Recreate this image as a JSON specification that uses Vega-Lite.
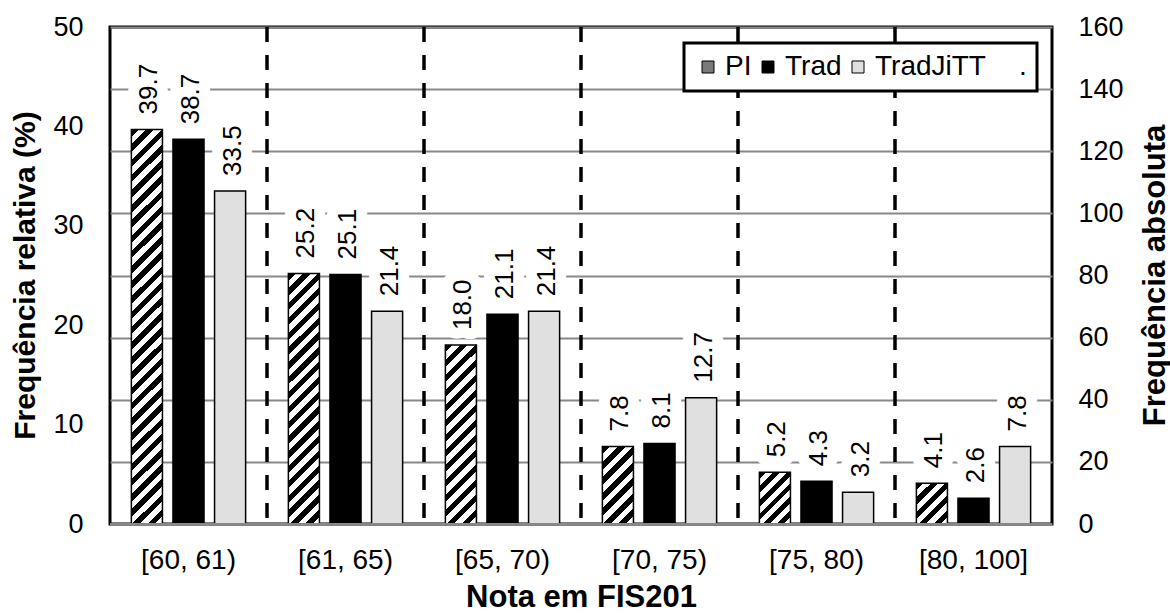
{
  "$schema": "https://vega.github.io/schema/vega-lite/v6.json",
  "width": 942,
  "height": 497,
  "autosize": {"type": "none"},
  "padding": {"left": 110, "top": 27, "right": 118, "bottom": 90},
  "background": "#ffffff",
  "config": {
    "font": "Liberation Sans",
    "view": {"stroke": "#000", "strokeWidth": 3},
    "axis": {
      "labelFont": "Liberation Sans",
      "titleFont": "Liberation Sans",
      "labelColor": "#000",
      "titleColor": "#000",
      "domain": false,
      "ticks": false,
      "labelFontSize": 27,
      "titleFontSize": 31,
      "titleFontWeight": "bold"
    },
    "legend": {"strokeWidth": 3, "labelFont": "Liberation Sans", "labelColor": "#000"}
  },
  "data": {
    "values": [
      {"faixa": "[60, 61)", "serie": "PI", "valor": 39.7},
      {"faixa": "[60, 61)", "serie": "Trad", "valor": 38.7},
      {"faixa": "[60, 61)", "serie": "TradJiTT", "valor": 33.5},
      {"faixa": "[61, 65)", "serie": "PI", "valor": 25.2},
      {"faixa": "[61, 65)", "serie": "Trad", "valor": 25.1},
      {"faixa": "[61, 65)", "serie": "TradJiTT", "valor": 21.4},
      {"faixa": "[65, 70)", "serie": "PI", "valor": 18.0},
      {"faixa": "[65, 70)", "serie": "Trad", "valor": 21.1},
      {"faixa": "[65, 70)", "serie": "TradJiTT", "valor": 21.4},
      {"faixa": "[70, 75)", "serie": "PI", "valor": 7.8},
      {"faixa": "[70, 75)", "serie": "Trad", "valor": 8.1},
      {"faixa": "[70, 75)", "serie": "TradJiTT", "valor": 12.7},
      {"faixa": "[75, 80)", "serie": "PI", "valor": 5.2},
      {"faixa": "[75, 80)", "serie": "Trad", "valor": 4.3},
      {"faixa": "[75, 80)", "serie": "TradJiTT", "valor": 3.2},
      {"faixa": "[80, 100]", "serie": "PI", "valor": 4.1},
      {"faixa": "[80, 100]", "serie": "Trad", "valor": 2.6},
      {"faixa": "[80, 100]", "serie": "TradJiTT", "valor": 7.8}
    ]
  },
  "layer": [
    {
      "layer": [
        {
          "mark": {"type": "bar", "stroke": "#000", "strokeWidth": 1.5},
          "encoding": {
            "x": {
              "field": "faixa", "type": "nominal",
              "scale": {"domain": ["[60, 61)", "[61, 65)", "[65, 70)", "[70, 75)", "[75, 80)", "[80, 100]"], "paddingInner": 0, "paddingOuter": 0},
              "axis": {"title": "Nota em FIS201", "labelAngle": 0, "labelFontSize": 28, "labelPadding": 22, "titleX": 471, "titleY": 73, "titleBaseline": "middle", "titleAlign": "center", "titleFontSize": 31}
            },
            "xOffset": {"field": "serie", "type": "nominal", "scale": {"domain": ["PI", "Trad", "TradJiTT"], "paddingInner": 0.253, "paddingOuter": 0.514}},
            "y": {
              "field": "valor", "type": "quantitative",
              "scale": {"domain": [0, 50], "nice": false},
              "axis": {"title": "Frequência relativa (%)", "values": [0, 10, 20, 30, 40, 50], "grid": false, "labelPadding": 27, "titleFontSize": 30, "titleX": -85, "titleY": 248, "titleBaseline": "middle", "titleAlign": "center"}
            },
            "fill": {
              "field": "serie", "type": "nominal",
              "scale": {
                "domain": ["PI", "Trad", "TradJiTT", "."],
                "range": ["#7a7a7a", "#000", "#e0e0e0", "transparent"]
              },
              "legend": {
                "title": null, "orient": "none", "legendX": 574, "legendY": 16,
                "direction": "horizontal", "columns": 4, "gridAlign": "none",
                "symbolType": "square", "symbolSize": 144, "symbolStrokeColor": "#000", "symbolStrokeWidth": 1, "symbolOpacity": 1,
                "labelFontSize": 28, "labelOffset": 3, "columnPadding": 2, "padding": 10,
                "fillColor": "#fff", "strokeColor": "#000",
                "encode": {"symbols": {"update": {
                  "stroke": [{"test": "datum.value === '.'", "value": "transparent"}, {"value": "#000"}],
                  "fill": [
                    {"test": "datum.value === 'PI'", "value": {"gradient": "linear", "x1": 0, "y1": 0, "x2": 1, "y2": 1, "stops": [
                      {"offset": 0, "color": "#000"}, {"offset": 0.25, "color": "#000"}, {"offset": 0.25, "color": "#fff"}, {"offset": 0.5, "color": "#fff"},
                      {"offset": 0.5, "color": "#000"}, {"offset": 0.75, "color": "#000"}, {"offset": 0.75, "color": "#fff"}, {"offset": 1, "color": "#fff"}
                    ]}},
                    {"scale": "fill", "field": "value"}
                  ]
                }}}
              },
              "condition": [
                {"test": "datum.serie === 'PI' && datum.faixa === '[60, 61)'", "value": {"gradient": "linear", "x1": 0, "y1": 0, "x2": 0.0842, "y2": 1.0719, "stops": [
                  {"offset": 0, "color": "#000"}, {"offset": 0.0179, "color": "#000"}, {"offset": 0.0179, "color": "#fff"}, {"offset": 0.0357, "color": "#fff"},
                  {"offset": 0.0357, "color": "#000"}, {"offset": 0.0536, "color": "#000"}, {"offset": 0.0536, "color": "#fff"}, {"offset": 0.0714, "color": "#fff"},
                  {"offset": 0.0714, "color": "#000"}, {"offset": 0.0893, "color": "#000"}, {"offset": 0.0893, "color": "#fff"}, {"offset": 0.1071, "color": "#fff"},
                  {"offset": 0.1071, "color": "#000"}, {"offset": 0.125, "color": "#000"}, {"offset": 0.125, "color": "#fff"}, {"offset": 0.1429, "color": "#fff"},
                  {"offset": 0.1429, "color": "#000"}, {"offset": 0.1607, "color": "#000"}, {"offset": 0.1607, "color": "#fff"}, {"offset": 0.1786, "color": "#fff"},
                  {"offset": 0.1786, "color": "#000"}, {"offset": 0.1964, "color": "#000"}, {"offset": 0.1964, "color": "#fff"}, {"offset": 0.2143, "color": "#fff"},
                  {"offset": 0.2143, "color": "#000"}, {"offset": 0.2321, "color": "#000"}, {"offset": 0.2321, "color": "#fff"}, {"offset": 0.25, "color": "#fff"},
                  {"offset": 0.25, "color": "#000"}, {"offset": 0.2679, "color": "#000"}, {"offset": 0.2679, "color": "#fff"}, {"offset": 0.2857, "color": "#fff"},
                  {"offset": 0.2857, "color": "#000"}, {"offset": 0.3036, "color": "#000"}, {"offset": 0.3036, "color": "#fff"}, {"offset": 0.3214, "color": "#fff"},
                  {"offset": 0.3214, "color": "#000"}, {"offset": 0.3393, "color": "#000"}, {"offset": 0.3393, "color": "#fff"}, {"offset": 0.3571, "color": "#fff"},
                  {"offset": 0.3571, "color": "#000"}, {"offset": 0.375, "color": "#000"}, {"offset": 0.375, "color": "#fff"}, {"offset": 0.3929, "color": "#fff"},
                  {"offset": 0.3929, "color": "#000"}, {"offset": 0.4107, "color": "#000"}, {"offset": 0.4107, "color": "#fff"}, {"offset": 0.4286, "color": "#fff"},
                  {"offset": 0.4286, "color": "#000"}, {"offset": 0.4464, "color": "#000"}, {"offset": 0.4464, "color": "#fff"}, {"offset": 0.4643, "color": "#fff"},
                  {"offset": 0.4643, "color": "#000"}, {"offset": 0.4821, "color": "#000"}, {"offset": 0.4821, "color": "#fff"}, {"offset": 0.5, "color": "#fff"},
                  {"offset": 0.5, "color": "#000"}, {"offset": 0.5179, "color": "#000"}, {"offset": 0.5179, "color": "#fff"}, {"offset": 0.5357, "color": "#fff"},
                  {"offset": 0.5357, "color": "#000"}, {"offset": 0.5536, "color": "#000"}, {"offset": 0.5536, "color": "#fff"}, {"offset": 0.5714, "color": "#fff"},
                  {"offset": 0.5714, "color": "#000"}, {"offset": 0.5893, "color": "#000"}, {"offset": 0.5893, "color": "#fff"}, {"offset": 0.6071, "color": "#fff"},
                  {"offset": 0.6071, "color": "#000"}, {"offset": 0.625, "color": "#000"}, {"offset": 0.625, "color": "#fff"}, {"offset": 0.6429, "color": "#fff"},
                  {"offset": 0.6429, "color": "#000"}, {"offset": 0.6607, "color": "#000"}, {"offset": 0.6607, "color": "#fff"}, {"offset": 0.6786, "color": "#fff"},
                  {"offset": 0.6786, "color": "#000"}, {"offset": 0.6964, "color": "#000"}, {"offset": 0.6964, "color": "#fff"}, {"offset": 0.7143, "color": "#fff"},
                  {"offset": 0.7143, "color": "#000"}, {"offset": 0.7321, "color": "#000"}, {"offset": 0.7321, "color": "#fff"}, {"offset": 0.75, "color": "#fff"},
                  {"offset": 0.75, "color": "#000"}, {"offset": 0.7679, "color": "#000"}, {"offset": 0.7679, "color": "#fff"}, {"offset": 0.7857, "color": "#fff"},
                  {"offset": 0.7857, "color": "#000"}, {"offset": 0.8036, "color": "#000"}, {"offset": 0.8036, "color": "#fff"}, {"offset": 0.8214, "color": "#fff"},
                  {"offset": 0.8214, "color": "#000"}, {"offset": 0.8393, "color": "#000"}, {"offset": 0.8393, "color": "#fff"}, {"offset": 0.8571, "color": "#fff"},
                  {"offset": 0.8571, "color": "#000"}, {"offset": 0.875, "color": "#000"}, {"offset": 0.875, "color": "#fff"}, {"offset": 0.8929, "color": "#fff"},
                  {"offset": 0.8929, "color": "#000"}, {"offset": 0.9107, "color": "#000"}, {"offset": 0.9107, "color": "#fff"}, {"offset": 0.9286, "color": "#fff"},
                  {"offset": 0.9286, "color": "#000"}, {"offset": 0.9464, "color": "#000"}, {"offset": 0.9464, "color": "#fff"}, {"offset": 0.9643, "color": "#fff"},
                  {"offset": 0.9643, "color": "#000"}, {"offset": 0.9821, "color": "#000"}, {"offset": 0.9821, "color": "#fff"}, {"offset": 1, "color": "#fff"}
                ]}},
                {"test": "datum.serie === 'PI' && datum.faixa === '[61, 65)'", "value": {"gradient": "linear", "x1": 0, "y1": 0, "x2": 0.137, "y2": 1.1068, "stops": [
                  {"offset": 0, "color": "#000"}, {"offset": 0.0263, "color": "#000"}, {"offset": 0.0263, "color": "#fff"}, {"offset": 0.0526, "color": "#fff"},
                  {"offset": 0.0526, "color": "#000"}, {"offset": 0.0789, "color": "#000"}, {"offset": 0.0789, "color": "#fff"}, {"offset": 0.1053, "color": "#fff"},
                  {"offset": 0.1053, "color": "#000"}, {"offset": 0.1316, "color": "#000"}, {"offset": 0.1316, "color": "#fff"}, {"offset": 0.1579, "color": "#fff"},
                  {"offset": 0.1579, "color": "#000"}, {"offset": 0.1842, "color": "#000"}, {"offset": 0.1842, "color": "#fff"}, {"offset": 0.2105, "color": "#fff"},
                  {"offset": 0.2105, "color": "#000"}, {"offset": 0.2368, "color": "#000"}, {"offset": 0.2368, "color": "#fff"}, {"offset": 0.2632, "color": "#fff"},
                  {"offset": 0.2632, "color": "#000"}, {"offset": 0.2895, "color": "#000"}, {"offset": 0.2895, "color": "#fff"}, {"offset": 0.3158, "color": "#fff"},
                  {"offset": 0.3158, "color": "#000"}, {"offset": 0.3421, "color": "#000"}, {"offset": 0.3421, "color": "#fff"}, {"offset": 0.3684, "color": "#fff"},
                  {"offset": 0.3684, "color": "#000"}, {"offset": 0.3947, "color": "#000"}, {"offset": 0.3947, "color": "#fff"}, {"offset": 0.4211, "color": "#fff"},
                  {"offset": 0.4211, "color": "#000"}, {"offset": 0.4474, "color": "#000"}, {"offset": 0.4474, "color": "#fff"}, {"offset": 0.4737, "color": "#fff"},
                  {"offset": 0.4737, "color": "#000"}, {"offset": 0.5, "color": "#000"}, {"offset": 0.5, "color": "#fff"}, {"offset": 0.5263, "color": "#fff"},
                  {"offset": 0.5263, "color": "#000"}, {"offset": 0.5526, "color": "#000"}, {"offset": 0.5526, "color": "#fff"}, {"offset": 0.5789, "color": "#fff"},
                  {"offset": 0.5789, "color": "#000"}, {"offset": 0.6053, "color": "#000"}, {"offset": 0.6053, "color": "#fff"}, {"offset": 0.6316, "color": "#fff"},
                  {"offset": 0.6316, "color": "#000"}, {"offset": 0.6579, "color": "#000"}, {"offset": 0.6579, "color": "#fff"}, {"offset": 0.6842, "color": "#fff"},
                  {"offset": 0.6842, "color": "#000"}, {"offset": 0.7105, "color": "#000"}, {"offset": 0.7105, "color": "#fff"}, {"offset": 0.7368, "color": "#fff"},
                  {"offset": 0.7368, "color": "#000"}, {"offset": 0.7632, "color": "#000"}, {"offset": 0.7632, "color": "#fff"}, {"offset": 0.7895, "color": "#fff"},
                  {"offset": 0.7895, "color": "#000"}, {"offset": 0.8158, "color": "#000"}, {"offset": 0.8158, "color": "#fff"}, {"offset": 0.8421, "color": "#fff"},
                  {"offset": 0.8421, "color": "#000"}, {"offset": 0.8684, "color": "#000"}, {"offset": 0.8684, "color": "#fff"}, {"offset": 0.8947, "color": "#fff"},
                  {"offset": 0.8947, "color": "#000"}, {"offset": 0.9211, "color": "#000"}, {"offset": 0.9211, "color": "#fff"}, {"offset": 0.9474, "color": "#fff"},
                  {"offset": 0.9474, "color": "#000"}, {"offset": 0.9737, "color": "#000"}, {"offset": 0.9737, "color": "#fff"}, {"offset": 1, "color": "#fff"}
                ]}},
                {"test": "datum.serie === 'PI' && datum.faixa === '[65, 70)'", "value": {"gradient": "linear", "x1": 0, "y1": 0, "x2": 0.1974, "y2": 1.1391, "stops": [
                  {"offset": 0, "color": "#000"}, {"offset": 0.0357, "color": "#000"}, {"offset": 0.0357, "color": "#fff"}, {"offset": 0.0714, "color": "#fff"},
                  {"offset": 0.0714, "color": "#000"}, {"offset": 0.1071, "color": "#000"}, {"offset": 0.1071, "color": "#fff"}, {"offset": 0.1429, "color": "#fff"},
                  {"offset": 0.1429, "color": "#000"}, {"offset": 0.1786, "color": "#000"}, {"offset": 0.1786, "color": "#fff"}, {"offset": 0.2143, "color": "#fff"},
                  {"offset": 0.2143, "color": "#000"}, {"offset": 0.25, "color": "#000"}, {"offset": 0.25, "color": "#fff"}, {"offset": 0.2857, "color": "#fff"},
                  {"offset": 0.2857, "color": "#000"}, {"offset": 0.3214, "color": "#000"}, {"offset": 0.3214, "color": "#fff"}, {"offset": 0.3571, "color": "#fff"},
                  {"offset": 0.3571, "color": "#000"}, {"offset": 0.3929, "color": "#000"}, {"offset": 0.3929, "color": "#fff"}, {"offset": 0.4286, "color": "#fff"},
                  {"offset": 0.4286, "color": "#000"}, {"offset": 0.4643, "color": "#000"}, {"offset": 0.4643, "color": "#fff"}, {"offset": 0.5, "color": "#fff"},
                  {"offset": 0.5, "color": "#000"}, {"offset": 0.5357, "color": "#000"}, {"offset": 0.5357, "color": "#fff"}, {"offset": 0.5714, "color": "#fff"},
                  {"offset": 0.5714, "color": "#000"}, {"offset": 0.6071, "color": "#000"}, {"offset": 0.6071, "color": "#fff"}, {"offset": 0.6429, "color": "#fff"},
                  {"offset": 0.6429, "color": "#000"}, {"offset": 0.6786, "color": "#000"}, {"offset": 0.6786, "color": "#fff"}, {"offset": 0.7143, "color": "#fff"},
                  {"offset": 0.7143, "color": "#000"}, {"offset": 0.75, "color": "#000"}, {"offset": 0.75, "color": "#fff"}, {"offset": 0.7857, "color": "#fff"},
                  {"offset": 0.7857, "color": "#000"}, {"offset": 0.8214, "color": "#000"}, {"offset": 0.8214, "color": "#fff"}, {"offset": 0.8571, "color": "#fff"},
                  {"offset": 0.8571, "color": "#000"}, {"offset": 0.8929, "color": "#000"}, {"offset": 0.8929, "color": "#fff"}, {"offset": 0.9286, "color": "#fff"},
                  {"offset": 0.9286, "color": "#000"}, {"offset": 0.9643, "color": "#000"}, {"offset": 0.9643, "color": "#fff"}, {"offset": 1, "color": "#fff"}
                ]}},
                {"test": "datum.serie === 'PI' && datum.faixa === '[70, 75)'", "value": {"gradient": "linear", "x1": 0, "y1": 0, "x2": 0.4828, "y2": 1.2069, "stops": [
                  {"offset": 0, "color": "#000"}, {"offset": 0.0714, "color": "#000"}, {"offset": 0.0714, "color": "#fff"}, {"offset": 0.1429, "color": "#fff"},
                  {"offset": 0.1429, "color": "#000"}, {"offset": 0.2143, "color": "#000"}, {"offset": 0.2143, "color": "#fff"}, {"offset": 0.2857, "color": "#fff"},
                  {"offset": 0.2857, "color": "#000"}, {"offset": 0.3571, "color": "#000"}, {"offset": 0.3571, "color": "#fff"}, {"offset": 0.4286, "color": "#fff"},
                  {"offset": 0.4286, "color": "#000"}, {"offset": 0.5, "color": "#000"}, {"offset": 0.5, "color": "#fff"}, {"offset": 0.5714, "color": "#fff"},
                  {"offset": 0.5714, "color": "#000"}, {"offset": 0.6429, "color": "#000"}, {"offset": 0.6429, "color": "#fff"}, {"offset": 0.7143, "color": "#fff"},
                  {"offset": 0.7143, "color": "#000"}, {"offset": 0.7857, "color": "#000"}, {"offset": 0.7857, "color": "#fff"}, {"offset": 0.8571, "color": "#fff"},
                  {"offset": 0.8571, "color": "#000"}, {"offset": 0.9286, "color": "#000"}, {"offset": 0.9286, "color": "#fff"}, {"offset": 1, "color": "#fff"}
                ]}},
                {"test": "datum.serie === 'PI' && datum.faixa === '[75, 80)'", "value": {"gradient": "linear", "x1": 0, "y1": 0, "x2": 0.7055, "y2": 1.1766, "stops": [
                  {"offset": 0, "color": "#000"}, {"offset": 0.0833, "color": "#000"}, {"offset": 0.0833, "color": "#fff"}, {"offset": 0.1667, "color": "#fff"},
                  {"offset": 0.1667, "color": "#000"}, {"offset": 0.25, "color": "#000"}, {"offset": 0.25, "color": "#fff"}, {"offset": 0.3333, "color": "#fff"},
                  {"offset": 0.3333, "color": "#000"}, {"offset": 0.4167, "color": "#000"}, {"offset": 0.4167, "color": "#fff"}, {"offset": 0.5, "color": "#fff"},
                  {"offset": 0.5, "color": "#000"}, {"offset": 0.5833, "color": "#000"}, {"offset": 0.5833, "color": "#fff"}, {"offset": 0.6667, "color": "#fff"},
                  {"offset": 0.6667, "color": "#000"}, {"offset": 0.75, "color": "#000"}, {"offset": 0.75, "color": "#fff"}, {"offset": 0.8333, "color": "#fff"},
                  {"offset": 0.8333, "color": "#000"}, {"offset": 0.9167, "color": "#000"}, {"offset": 0.9167, "color": "#fff"}, {"offset": 1, "color": "#fff"}
                ]}},
                {"test": "datum.serie === 'PI' && datum.faixa === '[80, 100]'", "value": {"gradient": "linear", "x1": 0, "y1": 0, "x2": 0.8477, "y2": 1.1157, "stops": [
                  {"offset": 0, "color": "#000"}, {"offset": 0.1, "color": "#000"}, {"offset": 0.1, "color": "#fff"}, {"offset": 0.2, "color": "#fff"},
                  {"offset": 0.2, "color": "#000"}, {"offset": 0.3, "color": "#000"}, {"offset": 0.3, "color": "#fff"}, {"offset": 0.4, "color": "#fff"},
                  {"offset": 0.4, "color": "#000"}, {"offset": 0.5, "color": "#000"}, {"offset": 0.5, "color": "#fff"}, {"offset": 0.6, "color": "#fff"},
                  {"offset": 0.6, "color": "#000"}, {"offset": 0.7, "color": "#000"}, {"offset": 0.7, "color": "#fff"}, {"offset": 0.8, "color": "#fff"},
                  {"offset": 0.8, "color": "#000"}, {"offset": 0.9, "color": "#000"}, {"offset": 0.9, "color": "#fff"}, {"offset": 1, "color": "#fff"}
                ]}}
              ]
            }
          }
        },
        {
          "transform": [{"filter": "datum.serie === 'PI' && datum.faixa !== '[60, 61)'"}],
          "mark": {"type": "rule", "color": "#000", "strokeWidth": 3.5, "strokeDash": [15, 13]},
          "encoding": {
            "x": {"field": "faixa", "type": "nominal", "bandPosition": 0, "scale": {"domain": ["[60, 61)", "[61, 65)", "[65, 70)", "[70, 75)", "[75, 80)", "[80, 100]"]}},
            "y": {"datum": 50, "type": "quantitative"},
            "y2": {"datum": 0}
          }
        },
        {
          "mark": {"type": "text", "angle": 270, "align": "left", "baseline": "middle", "dx": 15, "dy": 2.5, "fontSize": 26, "font": "Liberation Sans", "fill": "#fff", "stroke": "#fff", "strokeWidth": 22, "strokeJoin": "round"},
          "encoding": {
            "x": {"field": "faixa", "type": "nominal"},
            "xOffset": {"field": "serie", "type": "nominal"},
            "y": {"field": "valor", "type": "quantitative"},
            "text": {"field": "valor", "type": "quantitative", "format": ".1f"}
          }
        },
        {
          "mark": {"type": "text", "angle": 270, "align": "left", "baseline": "middle", "dx": 15, "dy": 2.5, "fontSize": 26, "font": "Liberation Sans", "fill": "#000"},
          "encoding": {
            "x": {"field": "faixa", "type": "nominal"},
            "xOffset": {"field": "serie", "type": "nominal"},
            "y": {"field": "valor", "type": "quantitative"},
            "text": {"field": "valor", "type": "quantitative", "format": ".1f"}
          }
        }
      ]
    },
    {
      "transform": [{"filter": "datum.serie === 'PI' && datum.faixa === '[60, 61)'"}],
      "mark": {"type": "rule", "color": "#888", "strokeWidth": 2},
      "encoding": {
        "y": {
          "datum": 0, "type": "quantitative",
          "scale": {"domain": [0, 160], "nice": false},
          "axis": {"orient": "right", "title": "Frequência absoluta", "values": [0, 20, 40, 60, 80, 100, 120, 140, 160], "grid": true, "gridColor": "#888", "gridWidth": 2, "labelPadding": 26, "titleAngle": 270, "titleX": 103, "titleY": 248, "titleBaseline": "middle", "titleAlign": "center"}
        }
      }
    }
  ],
  "resolve": {"scale": {"y": "independent"}, "axis": {"y": "independent"}}
}
